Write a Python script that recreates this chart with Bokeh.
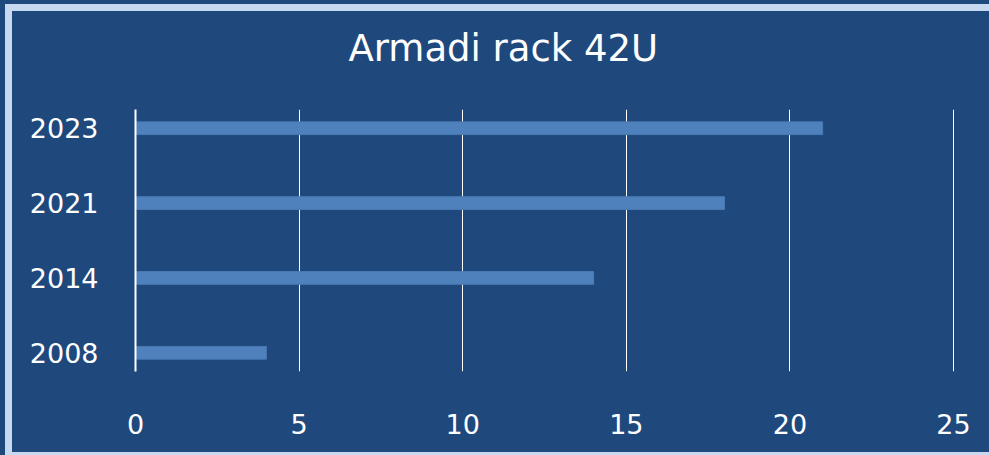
from bokeh.plotting import figure
from bokeh.models import Range1d, FixedTicker, ColumnDataSource, Title
from bokeh.embed import file_html
from bokeh.resources import INLINE

years = ["2008", "2014", "2021", "2023"]
values = [4, 14, 18, 21]
x_ticks = [0, 5, 10, 15, 20, 25]
chart_title = "Armadi rack 42U"

BG = "#1F497D"
FRAME = "#C6D9F1"
BAR = "#4F81BD"
FONT = "DejaVu Sans"

pos = list(range(len(years)))
src = ColumnDataSource(dict(y=pos, v=values, label=years))

p = figure(width=977, height=441, output_backend="svg", toolbar_location=None,
           x_range=Range1d(0, 25.03), y_range=Range1d(-0.25, 3.25),
           min_border_left=123, min_border_right=35, min_border_top=98,
           min_border_bottom=81)
p.background_fill_color = BG
p.border_fill_color = BG
p.outline_line_color = None
p.styles = {
    "margin-left": "12px",
    "margin-top": "11px",
    "background-color": BG,
    "box-shadow": f"0 0 0 7px {FRAME}, 0 0 0 14px {BG}",
}

p.hbar(y="y", left=0, right="v", height=0.17, fill_color=BAR,
       line_color="#4A7AB3", line_width=1, source=src)

p.title.text = chart_title
p.title.text_color = "white"
p.title.text_font = FONT
p.title.text_font_size = "37px"
p.title.text_font_style = "normal"
p.title.align = "left"
p.title.offset = 213
p.title.standoff = 4

spacer = Title(text=" ", text_font_size="10px", standoff=25, text_color=BG)
p.add_layout(spacer, "above")

p.xgrid.ticker = FixedTicker(ticks=x_ticks)
p.xgrid.grid_line_color = "white"
p.xgrid.grid_line_width = 1
p.ygrid.grid_line_color = None

p.xaxis.ticker = FixedTicker(ticks=x_ticks)
p.xaxis.axis_line_color = None
p.xaxis.major_tick_line_color = None
p.xaxis.minor_tick_line_color = None
p.xaxis.major_label_text_color = "white"
p.xaxis.major_label_text_font = FONT
p.xaxis.major_label_text_font_size = "27px"
p.xaxis.major_label_standoff = 36

p.yaxis.ticker = FixedTicker(ticks=pos)
p.yaxis.major_label_overrides = {i: y for i, y in zip(pos, years)}
p.yaxis.axis_line_color = "white"
p.yaxis.axis_line_width = 2
p.yaxis.major_tick_line_color = None
p.yaxis.minor_tick_line_color = None
p.yaxis.major_label_text_color = "white"
p.yaxis.major_label_text_font = FONT
p.yaxis.major_label_text_font_size = "27px"
p.yaxis.major_label_standoff = 31

open("out.html", "w").write(file_html(p, INLINE))
